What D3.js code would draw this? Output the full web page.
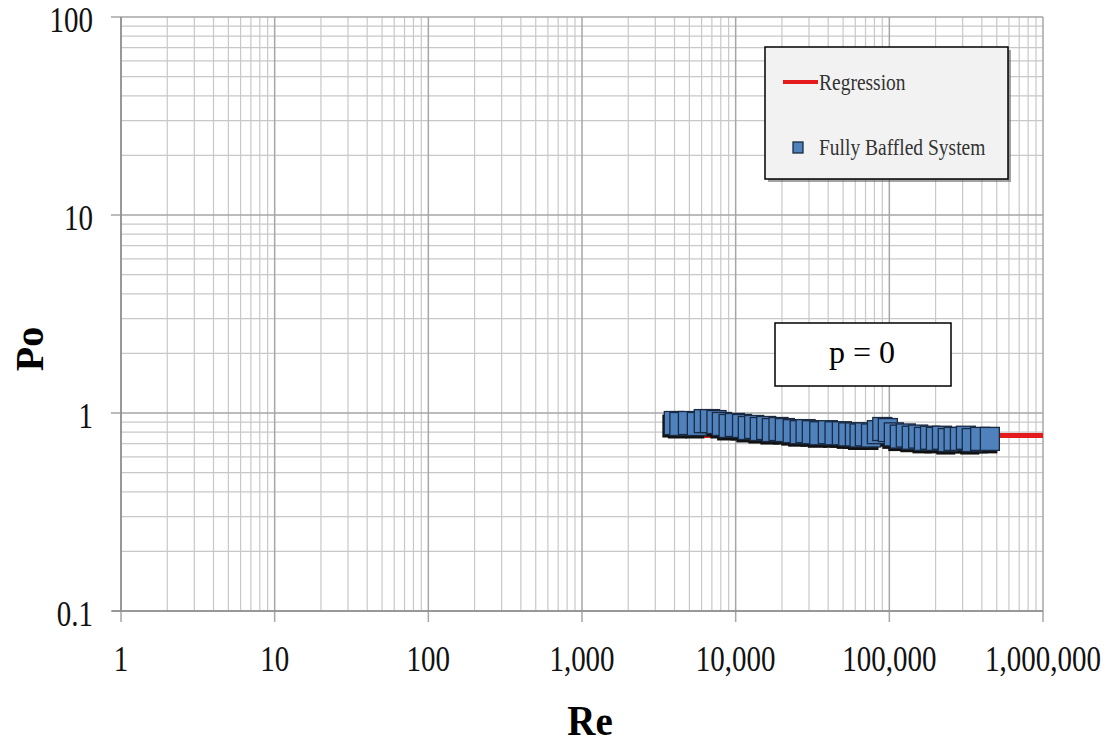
<!DOCTYPE html>
<html>
<head>
<meta charset="utf-8">
<script src="https://cdn.jsdelivr.net/npm/d3@7"></script>
<style>
  body { margin: 0; background: #fff; }
  text { font-family: "Liberation Serif", "DejaVu Serif", serif; }
</style>
</head>
<body>
<svg class="chart"></svg>
<script>
// data
const reValues = [3960, 4300, 4890, 5590, 6200, 6800, 7500, 8130, 9000, 9880,
  11000, 12000, 13200, 14350, 15800, 17200, 19000, 20900, 23500, 26100,
  28500, 31300, 35000, 39800, 44000, 49100, 54000, 59700, 64000, 69300,
  76000, 83000, 90000, 97800, 107000, 117000, 128000, 140000, 154000, 168000,
  184000, 201000, 220000, 240000, 262000, 288000, 315000, 344000, 390000, 451000];
const poValues = [0.89, 0.88, 0.89, 0.88, 0.91, 0.91, 0.90, 0.88, 0.86, 0.87,
  0.86, 0.84, 0.85, 0.83, 0.84, 0.82, 0.83, 0.82, 0.81, 0.80,
  0.81, 0.80, 0.79, 0.80, 0.79, 0.79, 0.78, 0.78, 0.77, 0.78,
  0.77, 0.80, 0.83, 0.82, 0.78, 0.76, 0.77, 0.75, 0.76, 0.74,
  0.75, 0.74, 0.75, 0.73, 0.74, 0.74, 0.75, 0.73, 0.74, 0.74];
const regressionRe = [3960, 1000000];
const regressionPo = [0.77, 0.77];
const xTicks = [1, 10, 100, 1000, 10000, 100000, 1000000];
const yTicks = [0.1, 1, 10, 100];

const width = 1116, height = 746;
const svg = d3.select(".chart").attr("width", width).attr("height", height);

const x = d3.scaleLog().domain([1, 1e6]).range([121, 1043]);
const y = d3.scaleLog().domain([0.1, 100]).range([611, 17]);

// minor + major grid
let minorX = [], minorY = [];
for (let d = 1; d < 1e6; d *= 10) for (let k = 2; k <= 9; k++) minorX.push(d * k);
for (let d = 0.1; d < 99; d *= 10) for (let k = 2; k <= 9; k++) minorY.push(d * k);

const grid = svg.append("g");
grid.selectAll(".mx").data(minorX).enter().append("line")
  .attr("x1", d => x(d)).attr("x2", d => x(d))
  .attr("y1", y(0.1)).attr("y2", y(100))
  .attr("stroke", "#c8c8c8").attr("stroke-width", 1.2);
grid.selectAll(".my").data(minorY).enter().append("line")
  .attr("x1", x(1)).attr("x2", x(1e6))
  .attr("y1", d => y(d)).attr("y2", d => y(d))
  .attr("stroke", "#c8c8c8").attr("stroke-width", 1.2);
grid.selectAll(".Mx").data(xTicks).enter().append("line")
  .attr("x1", d => x(d)).attr("x2", d => x(d))
  .attr("y1", y(100)).attr("y2", y(0.1) + 11)
  .attr("stroke", "#a6a6a6").attr("stroke-width", 1.5);
grid.selectAll(".My").data(yTicks).enter().append("line")
  .attr("x1", x(1) - 10).attr("x2", x(1e6))
  .attr("y1", d => y(d)).attr("y2", d => y(d))
  .attr("stroke", "#a6a6a6").attr("stroke-width", 1.5);

// axis lines
svg.append("line").attr("x1", x(1) - 9).attr("x2", x(1e6))
  .attr("y1", y(0.1)).attr("y2", y(0.1)).attr("stroke", "#8c8c8c").attr("stroke-width", 1.5);
svg.append("line").attr("x1", x(1)).attr("x2", x(1))
  .attr("y1", y(100)).attr("y2", y(0.1)).attr("stroke", "#8c8c8c").attr("stroke-width", 1.5);

// tick labels (the original is a bit stretched vertically)
const fmt = d3.format(",");
svg.selectAll(".xl").data(xTicks).enter().append("text")
  .attr("transform", d => `translate(${x(d)},671) scale(1,1.2)`)
  .attr("text-anchor", "middle").attr("font-size", 29).attr("fill", "#111")
  .text(d => fmt(d));
svg.selectAll(".yl").data(yTicks).enter().append("text")
  .attr("transform", d => `translate(93,${y(d) + 15}) scale(1,1.2)`)
  .attr("text-anchor", "end").attr("font-size", 29).attr("fill", "#111")
  .text(d => d);

svg.append("text").attr("transform", "translate(590,735) scale(1,1.1)")
  .attr("text-anchor", "middle").attr("font-size", 39).attr("font-weight", "bold")
  .text("Re");
svg.append("text").attr("transform", "translate(43,349) rotate(-90)")
  .attr("text-anchor", "middle").attr("font-size", 40).attr("font-weight", "bold")
  .text("Po");

// regression line
const pts = reValues.map((r, i) => ({re: r, po: poValues[i]}));
const reg = regressionRe.map((r, i) => ({re: r, po: regressionPo[i]}));
svg.append("path").datum(reg)
  .attr("d", d3.line().x(d => x(d.re)).y(d => y(d.po)))
  .attr("stroke", "#e41a1c").attr("stroke-width", 5).attr("fill", "none");

// markers with a dark shadow
const mw = 19, mh = 23;
svg.append("g").selectAll("rect").data(pts).enter().append("rect")
  .attr("x", d => x(d.re) - mw / 2 - 2).attr("y", d => y(d.po) - mh / 2 + 3)
  .attr("width", mw).attr("height", mh).attr("fill", "#111");
svg.append("g").selectAll("rect").data(pts).enter().append("rect")
  .attr("x", d => x(d.re) - mw / 2).attr("y", d => y(d.po) - mh / 2)
  .attr("width", mw).attr("height", mh)
  .attr("fill", "#4f81bd").attr("stroke", "#1a2a40").attr("stroke-width", 1.3);

// p = 0 box
svg.append("rect").attr("x", 775).attr("y", 323).attr("width", 176).attr("height", 63)
  .attr("fill", "#fff").attr("stroke", "#000").attr("stroke-width", 1.5);
svg.append("text").attr("x", 862).attr("y", 363)
  .attr("text-anchor", "middle").attr("font-size", 32).text("p = 0");

// legend
const lg = svg.append("g");
lg.append("rect").attr("x", 768).attr("y", 50).attr("width", 243).attr("height", 132)
  .attr("fill", "#666").attr("opacity", 0.6);
lg.append("rect").attr("x", 765).attr("y", 47).attr("width", 243).attr("height", 132)
  .attr("fill", "#f2f2f2").attr("stroke", "#000").attr("stroke-width", 1.5);
lg.append("line").attr("x1", 783).attr("x2", 818).attr("y1", 82).attr("y2", 82)
  .attr("stroke", "#e41a1c").attr("stroke-width", 4);
lg.append("text").attr("transform", "translate(819,90) scale(1,1.15)")
  .attr("font-size", 19.5).attr("fill", "#333").text("Regression");
lg.append("rect").attr("x", 793).attr("y", 142).attr("width", 10).attr("height", 11)
  .attr("fill", "#4f81bd").attr("stroke", "#1a2a40").attr("stroke-width", 1.3);
lg.append("text").attr("transform", "translate(819,155) scale(1,1.15)")
  .attr("font-size", 19.5).attr("fill", "#333").text("Fully Baffled System");
</script>
</body>
</html>
